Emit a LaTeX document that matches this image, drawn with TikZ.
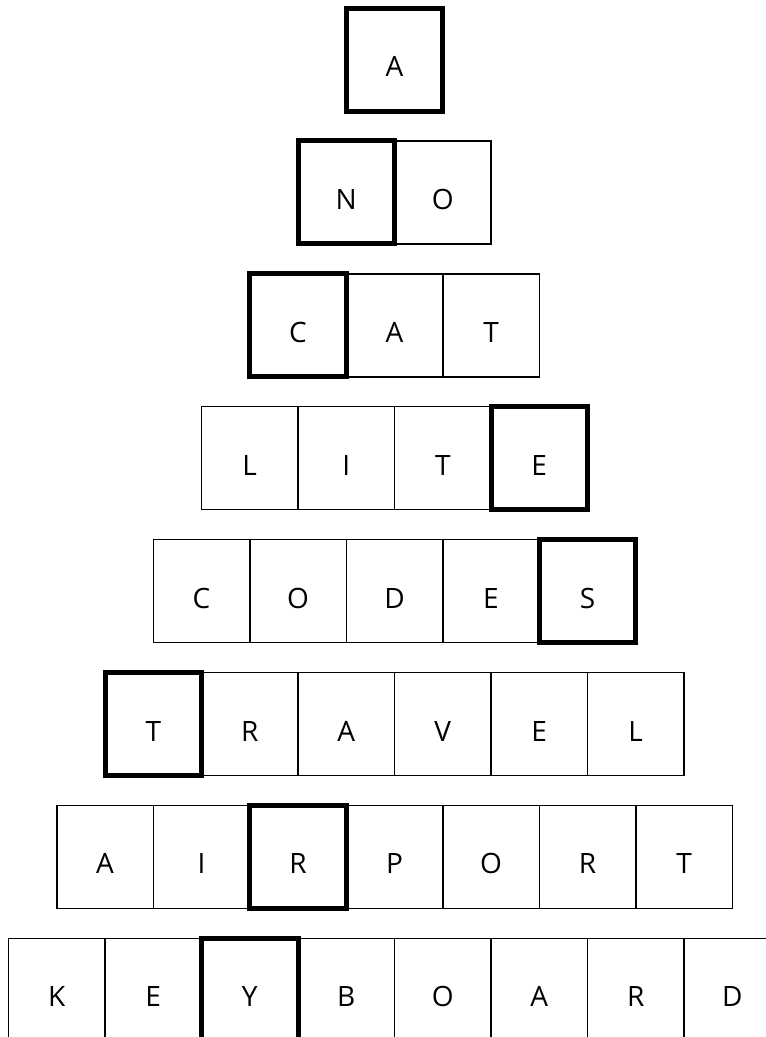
\documentclass[tikz,border=0pt]{standalone}
\usepackage{fontspec}
\setmainfont{Open Sans}
\usetikzlibrary{positioning}

\begin{document}
\begin{tikzpicture}[
      x=1pt, y=1pt,
      node distance=0pt, % 格子首尾相接
      every node/.style={font=\fontsize{28}{34}\selectfont, outer sep=0pt},
      letter/.style={draw, line width=1.5pt, minimum width=96.5pt, minimum height=103pt,
        inner sep=0pt, text height=34pt, text depth=0pt},
      key letter/.style={letter, line width=5pt} % 加粗的格子
    ]
  \useasboundingbox (0,0) rectangle (766,-1037);
  % 第一行
  \node[key letter] (a1) at (394.5,-59.5) {A};
  % 第二行
  \node[key letter] (no1) at (346.25,-192.4) {N};
  \node[letter, right=of no1] (no2) {O};
  % 第三行
  \node[key letter] (cat1) at (298,-325.3) {C};
  \node[letter, right=of cat1] (cat2) {A};
  \node[letter, right=of cat2] (cat3) {T};
  % 第四行
  \node[letter] (lite1) at (249.75,-458.2) {L};
  \node[letter, right=of lite1] (lite2) {I};
  \node[letter, right=of lite2] (lite3) {T};
  \node[key letter, right=of lite3] (lite4) {E};
  % 第五行
  \node[letter] (codes1) at (201.5,-591.1) {C};
  \node[letter, right=of codes1] (codes2) {O};
  \node[letter, right=of codes2] (codes3) {D};
  \node[letter, right=of codes3] (codes4) {E};
  \node[key letter, right=of codes4] (codes5) {S};
  % 第六行
  \node[key letter] (travel1) at (153.25,-724) {T};
  \node[letter, right=of travel1] (travel2) {R};
  \node[letter, right=of travel2] (travel3) {A};
  \node[letter, right=of travel3] (travel4) {V};
  \node[letter, right=of travel4] (travel5) {E};
  \node[letter, right=of travel5] (travel6) {L};
  % 第七行
  \node[letter] (airport1) at (105,-856.9) {A};
  \node[letter, right=of airport1] (airport2) {I};
  \node[key letter, right=of airport2] (airport3) {R};
  \node[letter, right=of airport3] (airport4) {P};
  \node[letter, right=of airport4] (airport5) {O};
  \node[letter, right=of airport5] (airport6) {R};
  \node[letter, right=of airport6] (airport7) {T};
  % 第八行（右端和底边超出画面）
  \node[letter] (keyboard1) at (56.75,-989.8) {K};
  \node[letter, right=of keyboard1] (keyboard2) {E};
  \node[key letter, right=of keyboard2] (keyboard3) {Y};
  \node[letter, right=of keyboard3] (keyboard4) {B};
  \node[letter, right=of keyboard4] (keyboard5) {O};
  \node[letter, right=of keyboard5] (keyboard6) {A};
  \node[letter, right=of keyboard6] (keyboard7) {R};
  \node[letter, right=of keyboard7] (keyboard8) {D};
\end{tikzpicture}
\end{document}
